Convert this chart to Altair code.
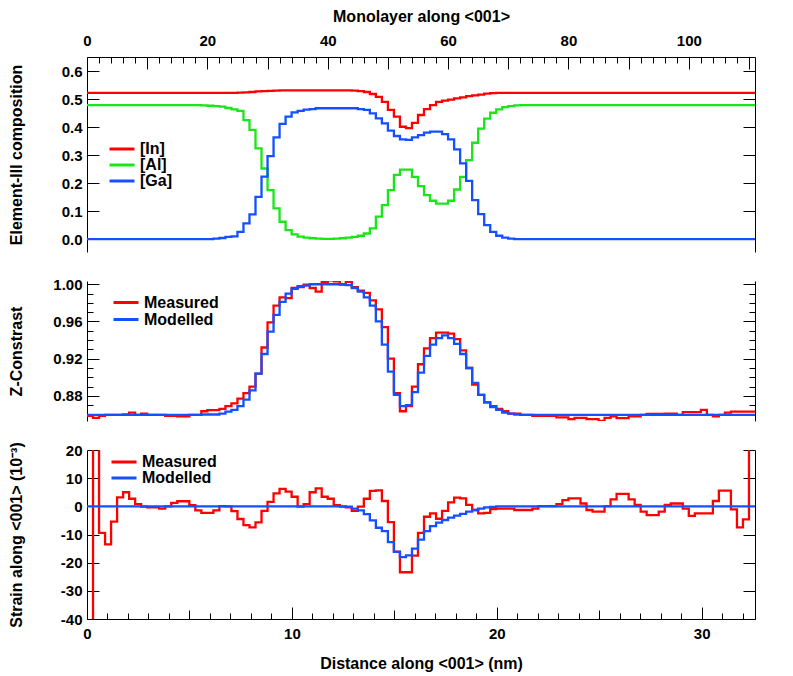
import altair as alt
import pandas as pd

ML_NM = 0.2937      # nm per monolayer (top axis vs bottom axis)
N_ML = 111
FONT = "Liberation Sans"
RED, GREEN, BLUE = "#FF0000", "#19E619", "#1450FF"

# ---------------- panel 1: element-III composition (per monolayer) ----------------
comp_in = ([0.522] * 25 + [0.523, 0.524, 0.525, 0.527, 0.528, 0.529, 0.530] + [0.531] * 12 +
           [0.530, 0.528, 0.525, 0.518, 0.508, 0.490, 0.461, 0.437, 0.401, 0.396, 0.415, 0.443,
            0.464, 0.478, 0.490, 0.494, 0.498, 0.502, 0.506, 0.510, 0.513, 0.516, 0.519, 0.521] +
           [0.522] * 43)
comp_al = ([0.478] * 19 +
           [0.477, 0.476, 0.475, 0.473, 0.468, 0.463, 0.458, 0.425, 0.390, 0.324, 0.252, 0.175,
            0.110, 0.062, 0.032, 0.017, 0.009, 0.005, 0.003, 0.002, 0.001, 0.001, 0.002, 0.003,
            0.005, 0.008, 0.012, 0.020, 0.038, 0.080, 0.121, 0.175, 0.229, 0.248, 0.248, 0.222,
            0.189, 0.157, 0.137, 0.127, 0.127, 0.137, 0.177, 0.222, 0.282, 0.344, 0.394, 0.430,
            0.451, 0.463, 0.471, 0.475, 0.477] +
           [0.478] * 39)
comp_ga = ([0.0] * 21 +
           [0.002, 0.004, 0.008, 0.010, 0.026, 0.056, 0.088, 0.151, 0.223, 0.296, 0.363, 0.411,
            0.437, 0.452, 0.458, 0.462, 0.464] + [0.467] * 7 +
           [0.464, 0.461, 0.449, 0.431, 0.413, 0.387, 0.368, 0.356, 0.354, 0.363, 0.371, 0.380,
            0.384, 0.384, 0.375, 0.356, 0.320, 0.270, 0.208, 0.139, 0.089, 0.050, 0.026, 0.012,
            0.005, 0.002] +
           [0.0] * 40)

# ---------------- panel 2: Z-contrast ----------------
z_meas = [0.8585, 0.8563, 0.8585, 0.8595, 0.8595, 0.8595, 0.8600, 0.8620, 0.8595, 0.8610,
          0.8595, 0.8595, 0.8595, 0.8585, 0.8585, 0.8580, 0.8580, 0.8595, 0.8595, 0.8635,
          0.8647, 0.8647, 0.8660, 0.8690, 0.8720, 0.8770, 0.8830, 0.8900, 0.9040, 0.9320,
          0.9590, 0.9770, 0.9860, 0.9850, 0.9960, 0.9970, 0.9997, 0.9960, 0.9920, 1.0025,
          1.0043, 1.0030, 0.9997, 1.0025, 0.9970, 0.9930, 0.9907, 0.9827, 0.9730, 0.9540,
          0.9200, 0.8830, 0.8635, 0.8690, 0.8900, 0.9140, 0.9310, 0.9420, 0.9480, 0.9480,
          0.9470, 0.9410, 0.9290, 0.9100, 0.8920, 0.8810, 0.8730, 0.8690, 0.8660, 0.8635,
          0.8610, 0.8610, 0.8595, 0.8595, 0.8585, 0.8585, 0.8585, 0.8585, 0.8570, 0.8570,
          0.8550, 0.8563, 0.8563, 0.8550, 0.8550, 0.8531, 0.8563, 0.8580, 0.8560, 0.8560,
          0.8580, 0.8580, 0.8595, 0.8606, 0.8606, 0.8606, 0.8610, 0.8610, 0.8595, 0.8625,
          0.8625, 0.8625, 0.8650, 0.8595, 0.8580, 0.8595, 0.8620, 0.8630, 0.8630, 0.8630,
          0.8630]
z_mod = ([0.8595] * 19 +
         [0.8600, 0.8600, 0.8600, 0.8610, 0.8630, 0.8650, 0.8690, 0.8760, 0.8860, 0.9040,
          0.9250, 0.9490, 0.9670, 0.9810, 0.9900, 0.9950, 0.9980, 0.9985] + [1.0] * 6 +
         [0.999, 0.996, 0.992, 0.986, 0.977, 0.960, 0.935, 0.906, 0.881, 0.869, 0.870, 0.884,
          0.905, 0.923, 0.935, 0.942, 0.945, 0.942, 0.936, 0.925, 0.910, 0.894, 0.881, 0.873,
          0.868, 0.865, 0.862, 0.861, 0.860] +
         [0.8595] * 39)

# ---------------- panel 3: strain (1e-3) ----------------
s_meas = [-60.0, 45.0, -9.4, -13.5, -5.4, 3.2, 5.0, 2.7, 0.8, -0.1,
          -0.4, -0.4, -0.8, 0.0, 1.2, 1.8, 1.8, 0.4, -1.4, -2.3,
          -2.3, -1.4, 0.1, 0.0, -1.7, -4.5, -6.7, -7.5, -5.7, -1.6,
          1.6, 4.6, 6.2, 5.2, 3.4, -0.1, 0.8, 5.0, 6.4, 3.4,
          2.7, 0.4, -0.1, -0.4, -1.6, -0.1, 2.7, 5.5, 5.7, 1.9,
          -5.6, -16.1, -23.4, -23.4, -17.5, -9.4, -3.7, -2.5, -4.4, -1.6,
          1.4, 3.1, 2.8, 0.5, -1.3, -2.5, -2.3, -1.0, -0.8, -0.8,
          -0.8, -1.3, -1.3, -1.3, -0.8, 0.1, 0.1, 0.1, 0.8, 2.2,
          2.8, 2.8, 1.0, -1.3, -1.9, -1.9, 0.1, 2.5, 4.4, 4.4,
          2.5, 0.5, -1.9, -3.1, -3.1, -1.9, 0.5, 1.0, 1.0, -0.8,
          -3.4, -2.5, -2.5, -2.5, 1.9, 5.6, 5.6, -1.1, -7.5, -4.6,
          45.0]
s_mod = ([0.0] * 43 +
         [-0.1, -0.8, -1.4, -2.8, -5.0, -7.6, -8.8, -12.7, -16.2, -18.0, -17.4, -15.0, -11.8,
          -8.8, -7.0, -5.8, -4.85, -4.0, -3.3, -2.7, -1.9, -1.3, -0.8, -0.4, -0.2] +
         [0.0] * 43)

# ---------------- axis tick lists ----------------
ml_ticks = list(range(0, 112, 2))
nm_tick_labels = list(range(0, 33))
nm_ticks = [n / ML_NM for n in nm_tick_labels]
y1_ticks = [0.0, 0.1, 0.2, 0.3, 0.4, 0.5, 0.6]
y2_ticks = [0.86, 0.87, 0.88, 0.89, 0.90, 0.91, 0.92, 0.93, 0.94, 0.95, 0.96, 0.97, 0.98, 0.99, 1.00]
y3_ticks = [-40, -30, -20, -10, 0, 10, 20]


def step_frame(series):
    rows = []
    for name, vals in series:
        for i, v in enumerate(vals):
            rows.append({"ml": i, "value": v, "series": name})
        rows.append({"ml": len(vals), "value": vals[-1], "series": name})
    return pd.DataFrame(rows)


XSCALE = alt.Scale(domain=[0, N_ML], nice=False, zero=False)
TXT = dict(labelFont=FONT, labelFontSize=15, labelFontWeight="bold", labelColor="black",
           titleFont=FONT, titleFontSize=16, titleFontWeight="bold", titleColor="black",
           domainColor="black", tickColor="black", domainWidth=1, tickWidth=1, grid=False)


def y_axes(values, label_expr, tick_expr, title):
    left = alt.Axis(orient="left", values=values, labelExpr=label_expr,
                    tickSize={"expr": tick_expr}, labelPadding=17, title=title,
                    titleX=-71, titleBaseline="middle", titleAngle=270, **TXT)
    right = alt.Axis(orient="right", values=values, labels=False,
                     tickSize={"expr": tick_expr}, title=None, **TXT)
    return left, right


def legend(x, y, row_h):
    return alt.Legend(orient="none", legendX=x, legendY=y, title=None, symbolType="stroke",
                      symbolSize=625, symbolStrokeWidth=3, labelFont=FONT, labelFontSize=16,
                      labelFontWeight="bold", labelColor="black", labelOffset=4, rowPadding=0,
                      clipHeight=row_h, padding=0, direction="vertical")


def panel(series, colors, ydomain, yleft, yright, xaxis, leg, height):
    df = step_frame(series)
    names = [n for n, _ in series]
    base = alt.Chart(df).properties(width=668, height=height)
    yscale = alt.Scale(domain=ydomain, nice=False, zero=False)
    cscale = alt.Scale(domain=names, range=colors)
    layers = []
    for i, name in enumerate(names):
        layers.append(
            base.transform_filter(alt.datum.series == name)
            .mark_line(interpolate="step-after", strokeWidth=2.3, clip=True)
            .encode(x=alt.X("ml:Q", scale=XSCALE, axis=xaxis if i == 0 else None),
                    y=alt.Y("value:Q", scale=yscale, axis=yleft if i == 0 else None),
                    color=alt.Color("series:N", scale=cscale, legend=leg))
        )
    layers.append(
        base.mark_line(opacity=0, interpolate="step-after", clip=True)
        .encode(x=alt.X("ml:Q", scale=XSCALE, axis=None),
                y=alt.Y("value:Q", scale=yscale, axis=yright))
    )
    return alt.layer(*layers).resolve_axis(x="independent", y="independent")


x_top = alt.Axis(orient="top", values=ml_ticks, labelFlush=False,
                 labelExpr="datum.value % 20 === 0 ? datum.label : ''",
                 tickSize={"expr": "datum.value % 10 === 0 ? -12 : -6"},
                 labelPadding=21, title="Monolayer along <001>", titlePadding=9, **TXT)
x_bot = alt.Axis(orient="bottom", values=nm_ticks, labelFlush=False,
                 labelExpr=f"round(datum.value*{ML_NM}) % 10 === 0 ? '' + round(datum.value*{ML_NM}) : ''",
                 tickSize={"expr": f"round(datum.value*{ML_NM}) % 10 === 0 ? -12 : "
                                   f"(round(datum.value*{ML_NM}) % 5 === 0 ? -9 : -6)"},
                 labelPadding=19, title="Distance along <001> (nm)", titlePadding=14, **TXT)

yl1, yr1 = y_axes(y1_ticks, "format(datum.value, '.1f')", "-12", "Element-III composition")
yl2, yr2 = y_axes(y2_ticks, "round(datum.value*100) % 4 === 0 ? format(datum.value, '.2f') : ''",
                  "round(datum.value*100) % 4 === 0 ? -12 : -6", "Z-Constrast")
yl3, yr3 = y_axes(y3_ticks, "'' + datum.value", "-12", "Strain along <001> (10\u207b\u00b3)")

top = panel([("[In]", comp_in), ("[Al]", comp_al), ("[Ga]", comp_ga)], [RED, GREEN, BLUE],
            [-0.046, 0.65], yl1, yr1, x_top, legend(21, 84, 16), 195)
mid = panel([("Measured", z_meas), ("Modelled", z_mod)], [RED, BLUE],
            [0.853, 1.0035], yl2, yr2, None, legend(25, 13, 17), 140)
bot = panel([("Measured", s_meas), ("Modelled", s_mod)], [RED, BLUE],
            [-40, 20], yl3, yr3, x_bot, legend(23, 4, 16), 169)

chart = (
    alt.vconcat(top, mid, bot, spacing=29, bounds="flush")
    .resolve_scale(color="independent")
    .resolve_legend(color="independent")
    .properties(padding={"left": 0, "top": 0, "right": 5, "bottom": 5}, background="white")
    .configure_view(stroke=None)
)

chart.save("out.html", embed_options={"renderer": "svg", "actions": False})
